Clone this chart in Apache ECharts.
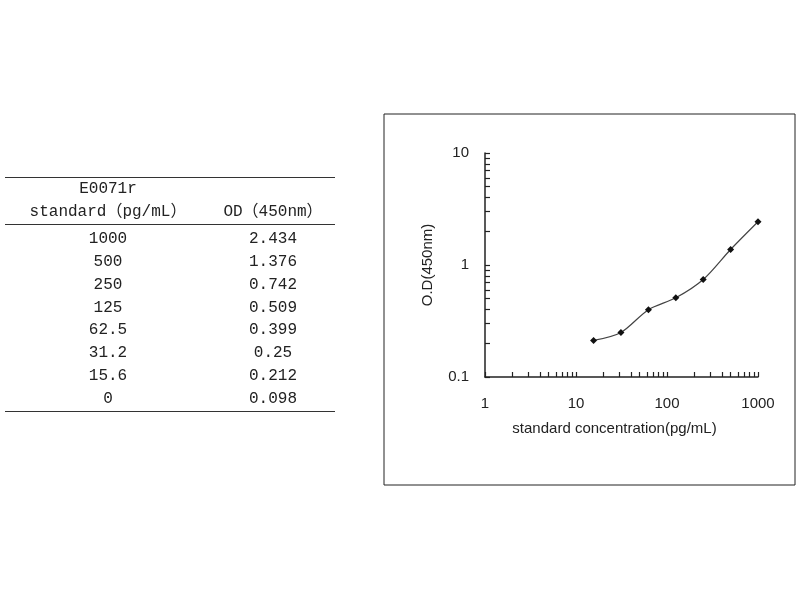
<!DOCTYPE html>
<html lang="en">
<head>
    <meta charset="UTF-8">
    <title>E0071r standard curve</title>
    <script src="https://cdn.jsdelivr.net/npm/echarts@6.0.0/dist/echarts.min.js"></script>
    <style>
        body { margin: 0; background: #fff; }
        #wrap { position: relative; width: 800px; height: 600px; }
        #chart { position: absolute; left: 0; top: 0; width: 800px; height: 600px; }
        #table {
            position: absolute; left: 5px; top: 177px; width: 330px;
            font-family: "Liberation Mono", "Noto Sans CJK SC", monospace;
            font-size: 16px; color: #222;
            border-top: 1px solid #333; border-bottom: 1px solid #333;
        }
        #table .head { border-bottom: 1px solid #333; height: 46px; }
        #table .row { display: flex; height: 22.85px; line-height: 22.85px; }
        #table .head .row { height: 23px; line-height: 23px; }
        #table .c1 { width: 206px; text-align: center; }
        #table .c2 { width: 124px; text-align: center; }
        #table .body { padding-top: 3px; }
    </style>
</head>
<body>
<div id="wrap">
    <div id="chart"></div>
    <div id="table"></div>
</div>
<script>
    // table values (the 0 standard is not plotted on the log axis)
    const stdConc = ['1000', '500', '250', '125', '62.5', '31.2', '15.6', '0'];
    const stdOD = ['2.434', '1.376', '0.742', '0.509', '0.399', '0.25', '0.212', '0.098'];

    // plotted curve
    const conc = [15.6, 31.2, 62.5, 125, 250, 500, 1000];
    const od = [0.212, 0.25, 0.399, 0.509, 0.742, 1.376, 2.434];

    const xLabels = [1, 10, 100, 1000];
    const yLabels = [0.1, 1, 10];
    const xTicks = [1, 2, 3, 4, 5, 6, 7, 8, 9, 10, 20, 30, 40, 50, 60, 70, 80, 90,
        100, 200, 300, 400, 500, 600, 700, 800, 900, 1000];
    const yTicks = [0.1, 0.2, 0.3, 0.4, 0.5, 0.6, 0.7, 0.8, 0.9, 1, 2, 3, 4, 5, 6, 7, 8, 9, 10];

    // build the table
    let html = '<div class="head">'
        + '<div class="row"><div class="c1">E0071r</div><div class="c2"></div></div>'
        + '<div class="row"><div class="c1">standard（pg/mL）</div><div class="c2">OD（450nm）</div></div>'
        + '</div><div class="body">';
    for (let i = 0; i < stdConc.length; i++) {
        html += '<div class="row"><div class="c1">' + stdConc[i] + '</div><div class="c2">' + stdOD[i] + '</div></div>';
    }
    html += '</div>';
    document.getElementById('table').innerHTML = html;

    const chart = echarts.init(document.getElementById('chart'));
    const axisColor = '#222';
    const option = {
        animation: false,
        grid: { left: 485, right: 42, top: 153, bottom: 223 },
        graphic: [{
            type: 'rect',
            shape: { x: 384, y: 114, width: 411, height: 371 },
            style: { fill: null, stroke: '#222', lineWidth: 1 }
        }],
        xAxis: {
            type: 'log',
            logBase: 10,
            min: 1,
            max: 1000,
            name: 'standard concentration(pg/mL)',
            nameLocation: 'middle',
            nameGap: 44,
            nameTextStyle: { fontFamily: 'Liberation Sans', fontSize: 15, color: '#222', padding: [0, 14, 0, 0] },
            axisLine: { lineStyle: { color: axisColor, width: 1.5 } },
            axisTick: { inside: true, length: 5, customValues: xTicks, lineStyle: { color: axisColor, width: 1.2 } },
            axisLabel: {
                customValues: xLabels,
                formatter: v => String(v),
                margin: 19,
                fontFamily: 'Liberation Sans', fontSize: 15, color: '#222'
            },
            splitLine: { show: false }
        },
        yAxis: {
            type: 'log',
            logBase: 10,
            min: 0.1,
            max: 10,
            name: 'O.D(450nm)',
            nameLocation: 'middle',
            nameGap: 50,
            nameTextStyle: { fontFamily: 'Liberation Sans', fontSize: 15, color: '#222' },
            axisLine: { show: true, lineStyle: { color: axisColor, width: 1.5 } },
            axisTick: { show: true, inside: true, length: 5, customValues: yTicks, lineStyle: { color: axisColor, width: 1.2 } },
            axisLabel: {
                customValues: yLabels,
                formatter: v => String(v),
                margin: 16,
                fontFamily: 'Liberation Sans', fontSize: 15, color: '#222'
            },
            splitLine: { show: false }
        },
        series: [{
            type: 'line',
            data: conc.map((c, i) => [c, od[i]]),
            smooth: 0.3,
            symbol: 'diamond',
            symbolSize: 7,
            itemStyle: { color: '#111' },
            lineStyle: { color: '#444', width: 1.2 }
        }]
    };
    chart.setOption(option);
</script>
</body>
</html>
